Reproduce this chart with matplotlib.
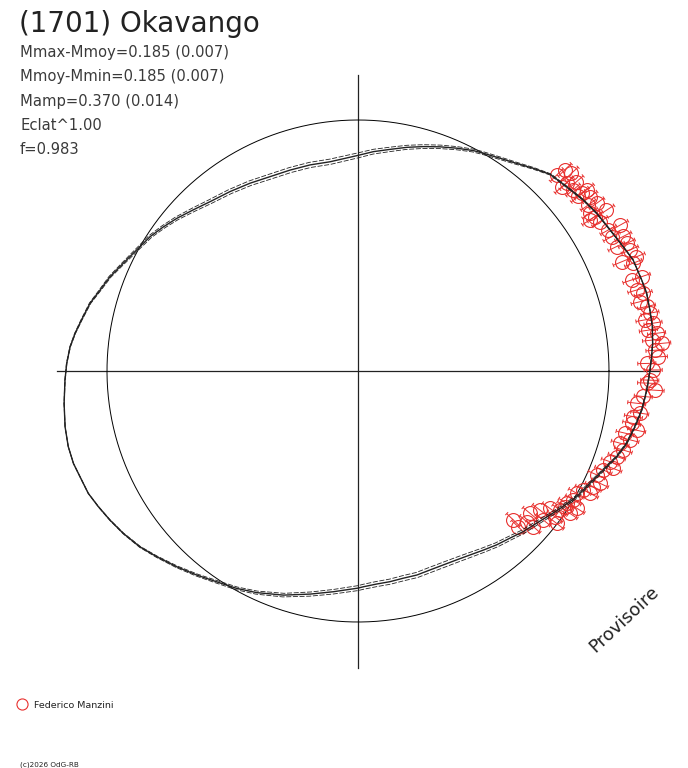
import numpy as np
import matplotlib
matplotlib.use('Agg')
import matplotlib.pyplot as plt
from matplotlib.collections import LineCollection

plt.rcParams['font.family'] = ['DejaVu Sans']

# Polar lightcurve: angle (deg, counter-clockwise from +x) and relative flux (mean circle = 1)
fit_angle = [0, 2.8, 5.4, 8.6, 11.8, 15.1, 17.8, 22.0, 25.1, 29.2, 33.4, 37.2, 41.4, 45.6,
             49.1, 52.6, 56.3, 60.1, 62.4, 66.1, 69.9, 73.8, 77.7, 81.8, 86.0, 90, 97.6,
             103.1, 108.7, 114.4, 119.9, 125.5, 131.2, 135.6, 139.9, 143.5, 147.1, 152.4,
             155.8, 159.2, 162.6, 165.8, 169.5, 172.4, 175.2, 178.5, 181.8, 186.3, 190.8,
             194.6, 198, 200.8, 204.4, 207.6, 211, 214.7, 218.9, 222.7, 227.2, 231.7,
             236.2, 240.8, 245.4, 251.6, 257.9, 263.6, 270, 271.4, 275, 278.6, 282.3,
             286.1, 289.9, 293.7, 297.6, 301.3, 305, 308.6, 312.3, 315.8, 319.6, 323.1,
             326.1, 330.1, 334.2, 338, 341.7, 344.9, 348.6, 352.2, 356.2]
fit_flux = [1.163, 1.171, 1.179, 1.186, 1.188, 1.191, 1.187, 1.182, 1.167, 1.151, 1.140,
            1.127, 1.109, 1.096, 1.068, 1.041, 1.019, 1.001, 0.991, 0.971, 0.951, 0.931,
            0.912, 0.892, 0.876, 0.859, 0.841, 0.843, 0.845, 0.850, 0.863, 0.878, 0.896,
            0.918, 0.944, 0.965, 0.986, 1.011, 1.032, 1.057, 1.077, 1.101, 1.120, 1.137,
            1.151, 1.161, 1.168, 1.178, 1.188, 1.193, 1.192, 1.185, 1.180, 1.167, 1.153,
            1.137, 1.116, 1.091, 1.063, 1.036, 1.011, 0.992, 0.971, 0.941, 0.909, 0.885,
            0.865, 0.860, 0.852, 0.849, 0.845, 0.846, 0.843, 0.844, 0.849, 0.858, 0.871,
            0.886, 0.900, 0.918, 0.935, 0.956, 0.976, 1.005, 1.027, 1.054, 1.086, 1.108,
            1.125, 1.141, 1.153]

obs_angle = [44.2, 44.6, 42.8, 42.0, 40.9, 42.1, 40.1, 38.5, 38.4, 36.9, 38.4, 35.8, 35.1,
             34.2, 32.9, 33.1, 31.7, 33.1, 29.4, 29.1, 27.9, 26.9, 25.7, 25.4, 24.0, 22.5,
             21.4, 22.3, 18.4, 18.4, 16.2, 15.2, 13.8, 12.6, 11.2, 10.1, 9.2, 8.0, 7.2,
             6.0, 5.2, 4.0, 2.7, 1.5, 0.2, -1.8, -2.4, -3.7, -5.1, -6.6, -8.5, -9.4,
             -10.8, -12.0, -13.1, -14.2, -15.4, -16.6, -18.3, -19.8, -20.9, -22.0, -23.5,
             -24.9, -26.2, -27.8, -27.8, -29.2, -30.9, -32.4, -32.1, -34.5, -35.6, -36.5,
             -37.4, -38.8, -39.6, -41.8, -43.8, -44.2, -41.6, -37.5, -33.9, -33.2]
obs_flux = [1.149, 1.112, 1.159, 1.118, 1.151, 1.094, 1.120, 1.138, 1.162, 1.155, 1.120,
            1.131, 1.162, 1.118, 1.179, 1.127, 1.133, 1.103, 1.145, 1.195, 1.143, 1.185,
            1.143, 1.185, 1.186, 1.137, 1.178, 1.199, 1.149, 1.191, 1.156, 1.178, 1.157,
            1.178, 1.186, 1.161, 1.191, 1.168, 1.199, 1.176, 1.215, 1.186, 1.198, 1.151,
            1.176, 1.163, 1.151, 1.186, 1.141, 1.118, 1.135, 1.112, 1.110, 1.135, 1.092,
            1.118, 1.083, 1.103, 1.086, 1.067, 1.088, 1.054, 1.037, 1.063, 1.045, 1.045,
            1.015, 0.998, 1.000, 0.984, 1.029, 0.977, 0.940, 0.976, 0.912, 0.947, 0.889,
            0.901, 0.857, 0.890, 0.934, 0.997, 1.017, 0.986]
obs_err = 0.036

info_lines = ['Mmax-Mmoy=0.185 (0.007)', 'Mmoy-Mmin=0.185 (0.007)',
              'Mamp=0.370 (0.014)', 'Eclat^1.00', 'f=0.983']

W, H = 688, 768
CX, CY, R = 358, 371, 251.0   # centre and unit radius in pixels
RED = '#e8302e'
INK = '#222222'

fig = plt.figure(figsize=(W / 100, H / 100), dpi=100, facecolor='white')
ax = fig.add_axes([0, 0, 1, 1])
ax.set_xlim(-CX / R, (W - CX) / R)
ax.set_ylim(-(H - CY) / R, CY / R)
ax.axis('off')

# axes cross and mean circle
ax.plot([-1.2, 1.2], [0, 0], color=INK, lw=0.9)
ax.plot([0, 0], [-1.183, 1.179], color=INK, lw=0.9)
t = np.linspace(0, 2 * np.pi, 400)
ax.plot(np.cos(t), np.sin(t), color='black', lw=0.7)

# observations with radial error bars
th = np.radians(obs_angle)
fl = np.array(obs_flux)
ox, oy = fl * np.cos(th), fl * np.sin(th)
cap = 0.008
segs = []
for a, f in zip(th, fl):
    c, s = np.cos(a), np.sin(a)
    r0, r1 = f - obs_err, f + obs_err
    segs.append([(r0 * c, r0 * s), (r1 * c, r1 * s)])
    for rr in (r0, r1):
        segs.append([(rr * c + cap * s, rr * s - cap * c),
                     (rr * c - cap * s, rr * s + cap * c)])
ax.add_collection(LineCollection(segs, colors=RED, linewidths=0.7, zorder=3))
ax.plot(ox, oy, 'o', ms=10, mfc='none', mec=RED, mew=0.8, zorder=3,
        label='Federico Manzini')

# fitted curve and its envelope
fa = np.radians(fit_angle + fit_angle[:1])
ff = np.array(fit_flux + fit_flux[:1])
spread = 0.03 * (ff.max() - ff)
ax.plot(ff * np.cos(fa), ff * np.sin(fa), color=INK, lw=1.0, zorder=4)
for sgn in (1, -1):
    fr = ff + sgn * spread
    ax.plot(fr * np.cos(fa), fr * np.sin(fa), color=INK, lw=0.6,
            ls=(0, (6, 2)), zorder=4)

# texts
fig.text(19 / W, 1 - 32 / H, '(1701) Okavango', fontsize=20, color=INK, va='baseline')
for i, line in enumerate(info_lines):
    fig.text(20 / W, 1 - (57 + 24.3 * i) / H, line, fontsize=10.6, color='#3a3a3a',
             va='baseline')
fig.text(624 / W, 1 - 619 / H, 'Provisoire', fontsize=13, color=INK, rotation=43,
         ha='center', va='center')
fig.text(20 / W, 1 - 766 / H, '(c)2026 OdG-RB', fontsize=5.2, color=INK, va='baseline')

leg = ax.legend(loc='center left', bbox_to_anchor=(17 / W, 1 - 705 / H),
                bbox_transform=fig.transFigure, frameon=False, fontsize=6.8,
                handlelength=1.0, handletextpad=0.85, borderpad=0, borderaxespad=0,
                numpoints=1, markerscale=0.8)
for txt in leg.get_texts():
    txt.set_color(INK)

fig.savefig('out.png', dpi=100, facecolor='white')
